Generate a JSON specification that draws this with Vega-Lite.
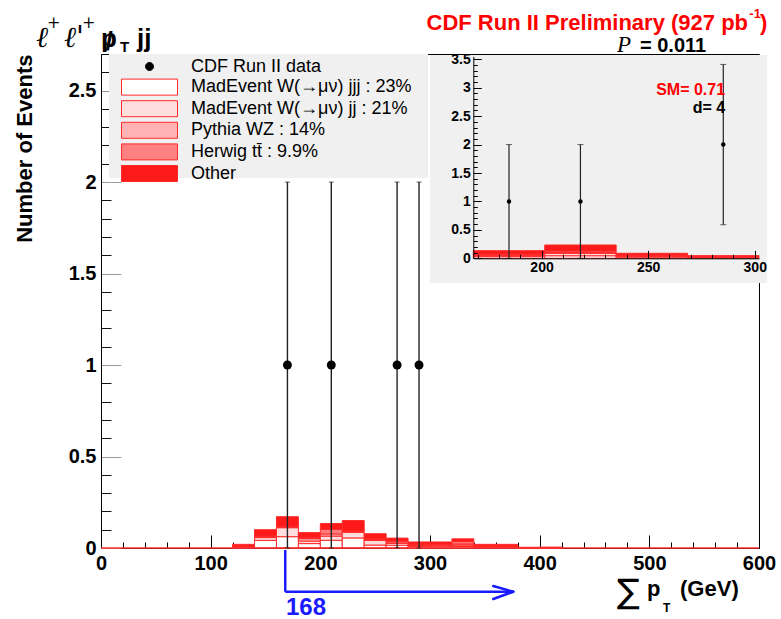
{
  "$schema": "https://vega.github.io/schema/vega-lite/v6.json",
  "width": 658,
  "height": 494,
  "autosize": "none",
  "padding": {"left": 101, "top": 54, "right": 22, "bottom": 71},
  "background": "#ffffff",
  "config": {
    "font": "Liberation Sans",
    "view": {"stroke": "#000000", "strokeWidth": 1},
    "text": {"font": "Liberation Sans", "fontWeight": "bold", "baseline": "alphabetic"}
  },
  "datasets": {
    "mainHist": [
      {"lo": 120, "hi": 140, "c1": 0.004, "c2": 0.003, "c3": 0.002, "c4": 0.001, "c5": 0.010},
      {"lo": 140, "hi": 160, "c1": 0.042, "c2": 0.015, "c3": 0.005, "c4": 0.003, "c5": 0.035},
      {"lo": 160, "hi": 180, "c1": 0.062, "c2": 0.049, "c3": 0.004, "c4": 0.003, "c5": 0.053},
      {"lo": 180, "hi": 200, "c1": 0.024, "c2": 0.014, "c3": 0.013, "c4": 0.005, "c5": 0.028},
      {"lo": 200, "hi": 220, "c1": 0.042, "c2": 0.023, "c3": 0.012, "c4": 0.024, "c5": 0.033},
      {"lo": 220, "hi": 240, "c1": 0.055, "c2": 0.030, "c3": 0.005, "c4": 0.003, "c5": 0.057},
      {"lo": 240, "hi": 260, "c1": 0.016, "c2": 0.025, "c3": 0.005, "c4": 0.004, "c5": 0.028},
      {"lo": 260, "hi": 280, "c1": 0.015, "c2": 0.010, "c3": 0.008, "c4": 0.005, "c5": 0.016},
      {"lo": 280, "hi": 300, "c1": 0.008, "c2": 0.006, "c3": 0.004, "c4": 0.003, "c5": 0.012},
      {"lo": 300, "hi": 320, "c1": 0.007, "c2": 0.005, "c3": 0.004, "c4": 0.003, "c5": 0.014},
      {"lo": 320, "hi": 340, "c1": 0.008, "c2": 0.008, "c3": 0.006, "c4": 0.013, "c5": 0.015},
      {"lo": 340, "hi": 360, "c1": 0.003, "c2": 0.003, "c3": 0.002, "c4": 0.002, "c5": 0.010},
      {"lo": 360, "hi": 380, "c1": 0.003, "c2": 0.003, "c3": 0.002, "c4": 0.002, "c5": 0.010},
      {"lo": 380, "hi": 400, "c1": 0, "c2": 0, "c3": 0, "c4": 0, "c5": 0.004},
      {"lo": 400, "hi": 420, "c1": 0, "c2": 0, "c3": 0, "c4": 0, "c5": 0.005}
    ],
    "insetHist": [
      {"lo": 168, "hi": 201.5, "c1": 0.030, "c2": 0.020, "c3": 0.012, "c4": 0.012, "c5": 0.060},
      {"lo": 201.5, "hi": 235, "c1": 0.045, "c2": 0.040, "c3": 0.020, "c4": 0.024, "c5": 0.105},
      {"lo": 235, "hi": 268.5, "c1": 0.020, "c2": 0.015, "c3": 0.010, "c4": 0.008, "c5": 0.035},
      {"lo": 268.5, "hi": 302, "c1": 0.010, "c2": 0.008, "c3": 0.006, "c4": 0.005, "c5": 0.018}
    ],
    "mainPts": [
      {"x": 170, "y": 1, "lo": 0, "hi": 2},
      {"x": 210, "y": 1, "lo": 0, "hi": 2},
      {"x": 270, "y": 1, "lo": 0, "hi": 2},
      {"x": 290, "y": 1, "lo": 0, "hi": 2}
    ],
    "insetPts": [
      {"x": 184.75, "y": 1, "lo": 0, "hi": 2},
      {"x": 218.25, "y": 1, "lo": 0, "hi": 2},
      {"x": 285.25, "y": 2, "lo": 0.59, "hi": 3.41}
    ],
    "one": [{}]
  },
  "layer": [
    {
      "layer": [
        {
          "data": {"name": "mainHist"},
          "transform": [{"fold": ["c1", "c2", "c3", "c4", "c5"], "as": ["k", "n"]}],
          "mark": {"type": "bar", "orient": "vertical", "stroke": "#ff2a2a", "strokeWidth": 1},
          "encoding": {
            "x": {
              "field": "lo", "type": "quantitative", "title": null,
              "scale": {"domain": [0, 600], "nice": false, "zero": false, "padding": 0},
              "axis": {
                "title": null, "grid": false, "zindex": 0, "tickCount": 1000,
                "values": [0,20,40,60,80,100,120,140,160,180,200,220,240,260,280,300,320,340,360,380,400,420,440,460,480,500,520,540,560,580,600],
                "labelExpr": "datum.value % 100 === 0 ? datum.label : ''",
                "format": "d",
                "labelFont": "Liberation Sans", "labelFontWeight": "bold", "labelFontSize": 20, "labelColor": "#000000",
                "labelPadding": 18, "labelOverlap": false, "labelFlush": false, "labelBound": false,
                "tickSize": {"condition": {"test": "datum.value % 100 === 0", "value": -13}, "value": -6},
                "tickColor": "#000000", "tickWidth": 1,
                "domainColor": "#000000", "domainWidth": 1
              }
            },
            "x2": {"field": "hi"},
            "y": {
              "field": "n", "type": "quantitative", "stack": "zero", "title": "Number of Events",
              "scale": {"domain": [0, 2.7], "nice": false, "zero": true, "padding": 0},
              "axis": {
                "title": "Number of Events", "grid": false, "zindex": 0, "tickCount": 1000,
                "titleFont": "Liberation Sans", "titleFontWeight": "bold", "titleFontSize": 22, "titleColor": "#000000",
                "titleAnchor": "end", "titleX": -65,
                "values": [0,0.1,0.2,0.3,0.4,0.5,0.6,0.7,0.8,0.9,1,1.1,1.2,1.3,1.4,1.5,1.6,1.7,1.8,1.9,2,2.1,2.2,2.3,2.4,2.5,2.6],
                "labelExpr": "round(datum.value*10) % 5 === 0 ? format(datum.value, '~g') : ''",
                "labelFont": "Liberation Sans", "labelFontWeight": "bold", "labelFontSize": 20, "labelColor": "#000000",
                "labelPadding": 25, "labelOverlap": false, "labelFlush": false, "labelBound": false,
                "tickSize": {"condition": {"test": "round(datum.value*10) % 5 === 0", "value": -20}, "value": -10},
                "tickColor": {"condition": {"test": "round(datum.value*10) % 5 === 0", "value": "#9a9a9a"}, "value": "#111111"},
                "tickWidth": 1,
                "domainColor": "#000000", "domainWidth": 1
              }
            },
            "fill": {
              "field": "k", "type": "nominal",
              "scale": {
                "domain": ["c0", "c1", "c2", "c3", "c4", "c5"],
                "range": ["#000000", "#ffffff", "#ffdede", "#ffb3b3", "#ff8080", "#ff1a1a"]
              },
              "legend": {
                "title": null, "orient": "none", "legendX": 38, "legendY": 2,
                "padding": 0, "rowPadding": 0.6,
                "labelFont": "Liberation Sans", "labelFontSize": 18, "labelColor": "#000000",
                "labelOffset": 31, "labelLimit": 400,
                "symbolSize": 400, "symbolType": "M-2.8,-0.8H2.8V0.8H-2.8Z",
                "symbolStrokeColor": "#ff2a2a", "symbolStrokeWidth": 1, "symbolOpacity": 1,
                "labelExpr": "datum.value === 'c0' ? 'CDF Run II data' : datum.value === 'c1' ? 'MadEvent W(→μν) jjj : 23%' : datum.value === 'c2' ? 'MadEvent W(→μν) jj : 21%' : datum.value === 'c3' ? 'Pythia WZ : 14%' : datum.value === 'c4' ? 'Herwig tt̄ : 9.9%' : 'Other'",
                "encode": {
                  "symbols": {
                    "update": {
                      "shape": {"signal": "datum.value === 'c0' ? 'M-0.4,0A0.4,0.4 0 1,0 0.4,0A0.4,0.4 0 1,0 -0.4,0Z' : 'M-2.8,-0.8H2.8V0.8H-2.8Z'"},
                      "stroke": {"signal": "datum.value === 'c0' ? '#000000' : '#ff2a2a'"}
                    }
                  }
                }
              }
            },
            "order": {"field": "k", "type": "ordinal", "sort": "ascending"}
          }
        },
        {
          "data": {"name": "one"},
          "mark": {"type": "rule", "color": "#ff3030", "strokeWidth": 1.5},
          "encoding": {
            "x": {"datum": 0, "type": "quantitative"},
            "x2": {"datum": 600},
            "y": {"datum": 0, "type": "quantitative"}
          }
        },
        {
          "data": {"name": "one"},
          "mark": {"type": "rect", "fill": "#f0f0f0"},
          "encoding": {
            "x": {"datum": 7.3, "type": "quantitative"},
            "x2": {"datum": 298.2},
            "y": {"datum": 2.022, "type": "quantitative"},
            "y2": {"datum": 2.7}
          }
        },
        {
          "data": {"name": "mainPts"},
          "mark": {"type": "errorbar", "ticks": {"size": 5, "color": "#222222"}, "rule": {"color": "#222222", "strokeWidth": 1.4}},
          "encoding": {
            "x": {"field": "x", "type": "quantitative", "title": null},
            "y": {"field": "lo", "type": "quantitative", "title": "Number of Events"},
            "y2": {"field": "hi"}
          }
        },
        {
          "data": {"name": "mainPts"},
          "mark": {"type": "point", "filled": true, "size": 80, "color": "#000000", "opacity": 1},
          "encoding": {
            "x": {"field": "x", "type": "quantitative", "title": null},
            "y": {"field": "y", "type": "quantitative", "title": "Number of Events"}
          }
        },
        {
          "data": {"name": "one"},
          "mark": {"type": "rule", "color": "#1a1aff", "strokeWidth": 2.5},
          "encoding": {
            "x": {"datum": 168, "type": "quantitative"},
            "y": {"datum": -0.011, "type": "quantitative"},
            "y2": {"datum": -0.239}
          }
        },
        {
          "data": {"name": "one"},
          "mark": {"type": "rule", "color": "#1a1aff", "strokeWidth": 2.5},
          "encoding": {
            "x": {"datum": 168, "type": "quantitative"},
            "x2": {"datum": 376},
            "y": {"datum": -0.239, "type": "quantitative"}
          }
        },
        {
          "data": {"name": "one"},
          "mark": {"type": "rule", "color": "#1a1aff", "strokeWidth": 2.5, "strokeCap": "round"},
          "encoding": {
            "x": {"datum": 357.7, "type": "quantitative"},
            "x2": {"datum": 376},
            "y": {"datum": -0.208, "type": "quantitative"},
            "y2": {"datum": -0.239}
          }
        },
        {
          "data": {"name": "one"},
          "mark": {"type": "rule", "color": "#1a1aff", "strokeWidth": 2.5, "strokeCap": "round"},
          "encoding": {
            "x": {"datum": 357.7, "type": "quantitative"},
            "x2": {"datum": 376},
            "y": {"datum": -0.279, "type": "quantitative"},
            "y2": {"datum": -0.239}
          }
        },
        {
          "data": {"name": "one"},
          "mark": {"type": "text", "text": "168", "fontSize": 24, "color": "#1a1aff", "align": "left"},
          "encoding": {"x": {"datum": 168.7, "type": "quantitative"}, "y": {"datum": -0.366, "type": "quantitative"}}
        },
        {
          "data": {"name": "one"},
          "mark": {"type": "text", "text": "∑", "font": "DejaVu Sans", "fontWeight": "normal", "fontSize": 34, "color": "#000000", "align": "left"},
          "encoding": {"x": {"datum": 470.5, "type": "quantitative"}, "y": {"datum": -0.301, "type": "quantitative"}}
        },
        {
          "data": {"name": "one"},
          "mark": {"type": "text", "text": "p", "fontSize": 22, "color": "#000000", "align": "left"},
          "encoding": {"x": {"datum": 497.9, "type": "quantitative"}, "y": {"datum": -0.262, "type": "quantitative"}}
        },
        {
          "data": {"name": "one"},
          "mark": {"type": "text", "text": "T", "fontSize": 12, "color": "#000000", "align": "left"},
          "encoding": {"x": {"datum": 512.5, "type": "quantitative"}, "y": {"datum": -0.35, "type": "quantitative"}}
        },
        {
          "data": {"name": "one"},
          "mark": {"type": "text", "text": "(GeV)", "fontSize": 22, "color": "#000000", "align": "left"},
          "encoding": {"x": {"datum": 528, "type": "quantitative"}, "y": {"datum": -0.262, "type": "quantitative"}}
        },
        {
          "data": {"name": "one"},
          "mark": {"type": "text", "text": "CDF Run II Preliminary (927 pb", "fontSize": 22, "color": "#ff0000", "align": "right"},
          "encoding": {"x": {"datum": 590, "type": "quantitative"}, "y": {"datum": 2.831, "type": "quantitative"}}
        },
        {
          "data": {"name": "one"},
          "mark": {"type": "text", "text": "-1", "fontSize": 13, "color": "#ff0000", "align": "left"},
          "encoding": {"x": {"datum": 591.2, "type": "quantitative"}, "y": {"datum": 2.897, "type": "quantitative"}}
        },
        {
          "data": {"name": "one"},
          "mark": {"type": "text", "text": ")", "fontSize": 22, "color": "#ff0000", "align": "left"},
          "encoding": {"x": {"datum": 600.8, "type": "quantitative"}, "y": {"datum": 2.831, "type": "quantitative"}}
        },
        {
          "data": {"name": "one"},
          "mark": {"type": "text", "text": "P", "font": "Liberation Serif", "fontStyle": "italic", "fontWeight": "normal", "fontSize": 23, "color": "#000000", "align": "left"},
          "encoding": {"x": {"datum": 470.5, "type": "quantitative"}, "y": {"datum": 2.711, "type": "quantitative"}}
        },
        {
          "data": {"name": "one"},
          "mark": {"type": "text", "text": "= 0.011", "fontSize": 20, "color": "#000000", "align": "left"},
          "encoding": {"x": {"datum": 491.5, "type": "quantitative"}, "y": {"datum": 2.711, "type": "quantitative"}}
        },
        {
          "data": {"name": "one"},
          "mark": {"type": "text", "text": "ℓ", "font": "DejaVu Serif", "fontStyle": "italic", "fontWeight": "normal", "fontSize": 29, "color": "#000000", "align": "left"},
          "encoding": {"x": {"datum": -59.3, "type": "quantitative"}, "y": {"datum": 2.738, "type": "quantitative"}}
        },
        {
          "data": {"name": "one"},
          "mark": {"type": "text", "text": "+", "font": "DejaVu Serif", "fontWeight": "normal", "fontSize": 16, "color": "#000000", "align": "left"},
          "encoding": {"x": {"datum": -49.3, "type": "quantitative"}, "y": {"datum": 2.84, "type": "quantitative"}}
        },
        {
          "data": {"name": "one"},
          "mark": {"type": "text", "text": "ℓ'", "font": "DejaVu Serif", "fontStyle": "italic", "fontWeight": "normal", "fontSize": 29, "color": "#000000", "align": "left"},
          "encoding": {"x": {"datum": -33.7, "type": "quantitative"}, "y": {"datum": 2.738, "type": "quantitative"}}
        },
        {
          "data": {"name": "one"},
          "mark": {"type": "text", "text": "+", "font": "DejaVu Serif", "fontWeight": "normal", "fontSize": 16, "color": "#000000", "align": "left"},
          "encoding": {"x": {"datum": -17.3, "type": "quantitative"}, "y": {"datum": 2.84, "type": "quantitative"}}
        },
        {
          "data": {"name": "one"},
          "mark": {"type": "text", "text": "p", "fontSize": 26, "color": "#000000", "align": "center"},
          "encoding": {"x": {"datum": 7.3, "type": "quantitative"}, "y": {"datum": 2.738, "type": "quantitative"}}
        },
        {
          "data": {"name": "one"},
          "mark": {"type": "text", "text": "/", "fontSize": 26, "color": "#000000", "align": "center"},
          "encoding": {"x": {"datum": 7.3, "type": "quantitative"}, "y": {"datum": 2.722, "type": "quantitative"}}
        },
        {
          "data": {"name": "one"},
          "mark": {"type": "text", "text": "T", "fontSize": 15, "color": "#000000", "align": "left"},
          "encoding": {"x": {"datum": 17.3, "type": "quantitative"}, "y": {"datum": 2.711, "type": "quantitative"}}
        },
        {
          "data": {"name": "one"},
          "mark": {"type": "text", "text": "jj", "fontSize": 26, "color": "#000000", "align": "left"},
          "encoding": {"x": {"datum": 32.8, "type": "quantitative"}, "y": {"datum": 2.738, "type": "quantitative"}}
        }
      ]
    },
    {
      "layer": [
        {
          "data": {"name": "one"},
          "mark": {"type": "rect", "fill": "#f0f0f0"},
          "encoding": {
            "x": {"datum": 147.7, "type": "quantitative"},
            "x2": {"datum": 305.8},
            "y": {"datum": -0.434, "type": "quantitative"},
            "y2": {"datum": 3.575}
          }
        },
        {
          "data": {"name": "insetHist"},
          "transform": [{"fold": ["c1", "c2", "c3", "c4", "c5"], "as": ["k", "n"]}],
          "mark": {"type": "bar", "orient": "vertical", "stroke": "#ff2a2a", "strokeWidth": 1},
          "encoding": {
            "x": {
              "field": "lo", "type": "quantitative", "title": null,
              "scale": {"domain": [168, 302], "range": [372.3, 658], "nice": false, "zero": false, "padding": 0},
              "axis": {
                "orient": "bottom", "offset": -289.7, "title": null, "grid": false, "zindex": 2, "tickCount": 1000,
                "values": [170,180,190,200,210,220,230,240,250,260,270,280,290,300],
                "labelExpr": "datum.value % 50 === 0 ? datum.label : ''",
                "format": "d",
                "labelFont": "Liberation Sans", "labelFontWeight": "bold", "labelFontSize": 14, "labelColor": "#000000",
                "labelPadding": 10, "labelOverlap": false, "labelFlush": false, "labelBound": false,
                "tickSize": {"condition": {"test": "datum.value % 50 === 0", "value": -8}, "value": -4},
                "tickColor": "#000000", "tickWidth": 1,
                "domainColor": "#000000", "domainWidth": 1
              }
            },
            "x2": {"field": "hi"},
            "y": {
              "field": "n", "type": "quantitative", "stack": "zero", "title": null,
              "scale": {"domain": [0, 3.55], "range": [204.3, 2.45], "nice": false, "zero": true, "padding": 0},
              "axis": {
                "orient": "left", "offset": -372.3, "title": null, "grid": false, "zindex": 2, "tickCount": 1000,
                "values": [0,0.1,0.2,0.3,0.4,0.5,0.6,0.7,0.8,0.9,1,1.1,1.2,1.3,1.4,1.5,1.6,1.7,1.8,1.9,2,2.1,2.2,2.3,2.4,2.5,2.6,2.7,2.8,2.9,3,3.1,3.2,3.3,3.4,3.5],
                "labelExpr": "round(datum.value*10) % 5 === 0 ? format(datum.value, '~g') : ''",
                "labelFont": "Liberation Sans", "labelFontWeight": "bold", "labelFontSize": 14, "labelColor": "#000000",
                "labelPadding": 11, "labelOverlap": false, "labelFlush": false, "labelBound": false,
                "tickSize": {"condition": {"test": "round(datum.value*10) % 5 === 0", "value": -8}, "value": -4},
                "tickColor": "#000000", "tickWidth": 1,
                "domainColor": "#000000", "domainWidth": 1
              }
            },
            "fill": {"field": "k", "type": "nominal", "legend": null},
            "order": {"field": "k", "type": "ordinal", "sort": "ascending"}
          }
        },
        {
          "data": {"name": "insetPts"},
          "mark": {"type": "errorbar", "ticks": {"size": 6, "color": "#222222"}, "rule": {"color": "#222222", "strokeWidth": 1.2}},
          "encoding": {
            "x": {"field": "x", "type": "quantitative", "title": null},
            "y": {"field": "lo", "type": "quantitative", "title": null},
            "y2": {"field": "hi"}
          }
        },
        {
          "data": {"name": "insetPts"},
          "mark": {"type": "point", "filled": true, "size": 20, "color": "#000000", "opacity": 1},
          "encoding": {
            "x": {"field": "x", "type": "quantitative", "title": null},
            "y": {"field": "y", "type": "quantitative", "title": null}
          }
        },
        {
          "data": {"name": "one"},
          "mark": {"type": "text", "text": "SM= 0.71", "fontSize": 16, "color": "#ff0000", "align": "right"},
          "encoding": {"x": {"datum": 286.1, "type": "quantitative"}, "y": {"datum": 2.872, "type": "quantitative"}}
        },
        {
          "data": {"name": "one"},
          "mark": {"type": "text", "text": "d= 4", "fontSize": 16, "color": "#000000", "align": "right"},
          "encoding": {"x": {"datum": 286.1, "type": "quantitative"}, "y": {"datum": 2.555, "type": "quantitative"}}
        }
      ]
    }
  ],
  "resolve": {"scale": {"x": "independent", "y": "independent"}}
}
